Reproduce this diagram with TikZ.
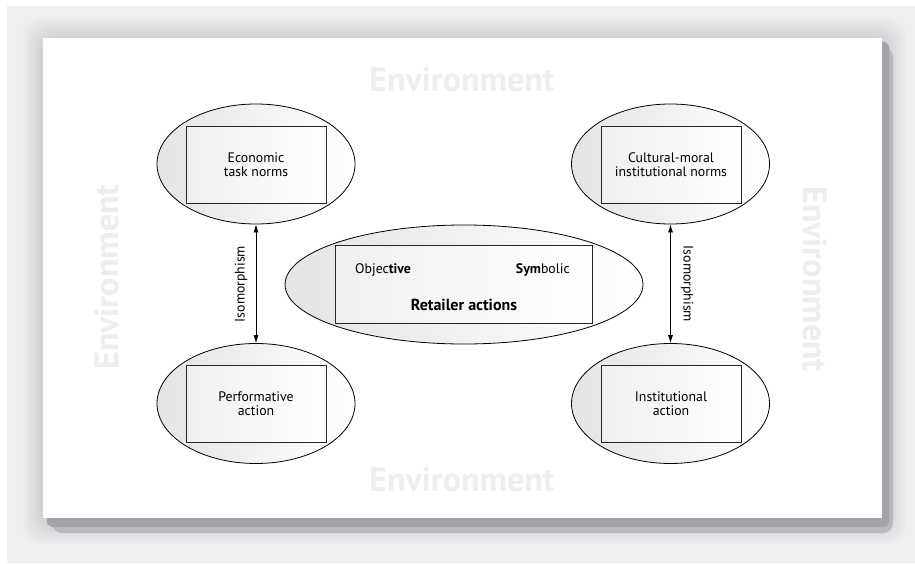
\documentclass[tikz,border=0pt]{standalone}
\usepackage{fontspec}
\setmainfont{PT Sans}
\usetikzlibrary{arrows.meta,shapes.geometric}
\definecolor{bgc}{HTML}{EEEFF1}
\definecolor{shadowc}{HTML}{A2A3A7}
\definecolor{envc}{HTML}{EDEEF0}
\definecolor{ellc}{HTML}{E4E4E4}
\definecolor{boxc}{HTML}{EFEFEF}
\tikzset{
  ell/.style={ellipse, draw=black, line width=0.8pt, left color=ellc, right color=white, inner sep=0pt, minimum width=198pt, minimum height=120pt},
  cell/.style={ell, minimum width=358pt, minimum height=119pt},
  box/.style={rectangle, draw=black!85, line width=0.9pt, left color=boxc, right color=white, inner sep=0pt, minimum width=140pt, minimum height=77pt, align=center, font=\fontsize{13.8}{14.5}\selectfont},
  cbox/.style={box, minimum width=257pt, minimum height=78pt},
  lbl/.style={font=\fontsize{13.8}{15}\selectfont, inner sep=0pt},
  env/.style={text=envc, font=\fontsize{34}{36}\selectfont\bfseries, inner sep=0pt},
  iso/.style={{Latex[length=8pt,width=5pt]}-{Latex[length=8pt,width=5pt]}, line width=0.8pt}
}
\begin{document}
\begin{tikzpicture}[x=1pt,y=-1pt]
\useasboundingbox (0,0) rectangle (915,564);
\fill[white] (0,0) rectangle (915,564);
\fill[bgc] (7,6) rectangle (915,563);
% soft halo
\foreach \i in {1,...,10}{
  \fill[black,opacity=0.012,rounded corners=18] ({43-2*\i},{38-2*\i}) rectangle ({886+2*\i},{524+2*\i});
}
% drop shadow
\fill[shadowc!70!bgc,rounded corners=10] (52,47) rectangle (893,533);
\fill[shadowc,rounded corners=6] (47,42) rectangle (889,527);
% panel
\fill[white] (43,38) rectangle (882,518);

% environment labels
\node[env] (envT) at (462,80) {Environment};
\node[env] (envB) at (462,480) {Environment};
\node[env,rotate=90] (envL) at (107,277) {Environment};
\node[env,rotate=-90] (envR) at (815,279) {Environment};

% ellipses
\node[ell] (e1) at (256,164) {};
\node[ell] (e2) at (670.5,164) {};
\node[ell] (e3) at (256,403.5) {};
\node[ell] (e4) at (670.5,403.5) {};
\node[cell] (ec) at (464,284.5) {};

% boxes
\node[box] (b1) at (256,164.5) {Economic\\task norms};
\node[box] (b2) at (671,164.5) {Cultural-moral\\institutional norms};
\node[box] (b3) at (256,403.5) {Performative\\action};
\node[box] (b4) at (671,403.5) {Institutional\\action};
\node[cbox] (bc) at (463.5,284) {};
\node[lbl,anchor=base west] (obj) at (355,273) {Objec\textbf{tive}};
\node[lbl,anchor=base east] (sym) at (570,273) {\textbf{Sym}bolic};
\node[lbl,anchor=base,font=\fontsize{16}{18}\selectfont\bfseries] (ra) at (464,310) {Retailer actions};

% isomorphism arrows
\draw[iso] (e1.south) -- (e3.north);
\draw[iso] (e2.south) -- (e4.north);
\node[lbl,rotate=90] (isoL) at (241,284) {Isomorphism};
\node[lbl,rotate=-90] (isoR) at (687,284) {Isomorphism};
\end{tikzpicture}
\end{document}
